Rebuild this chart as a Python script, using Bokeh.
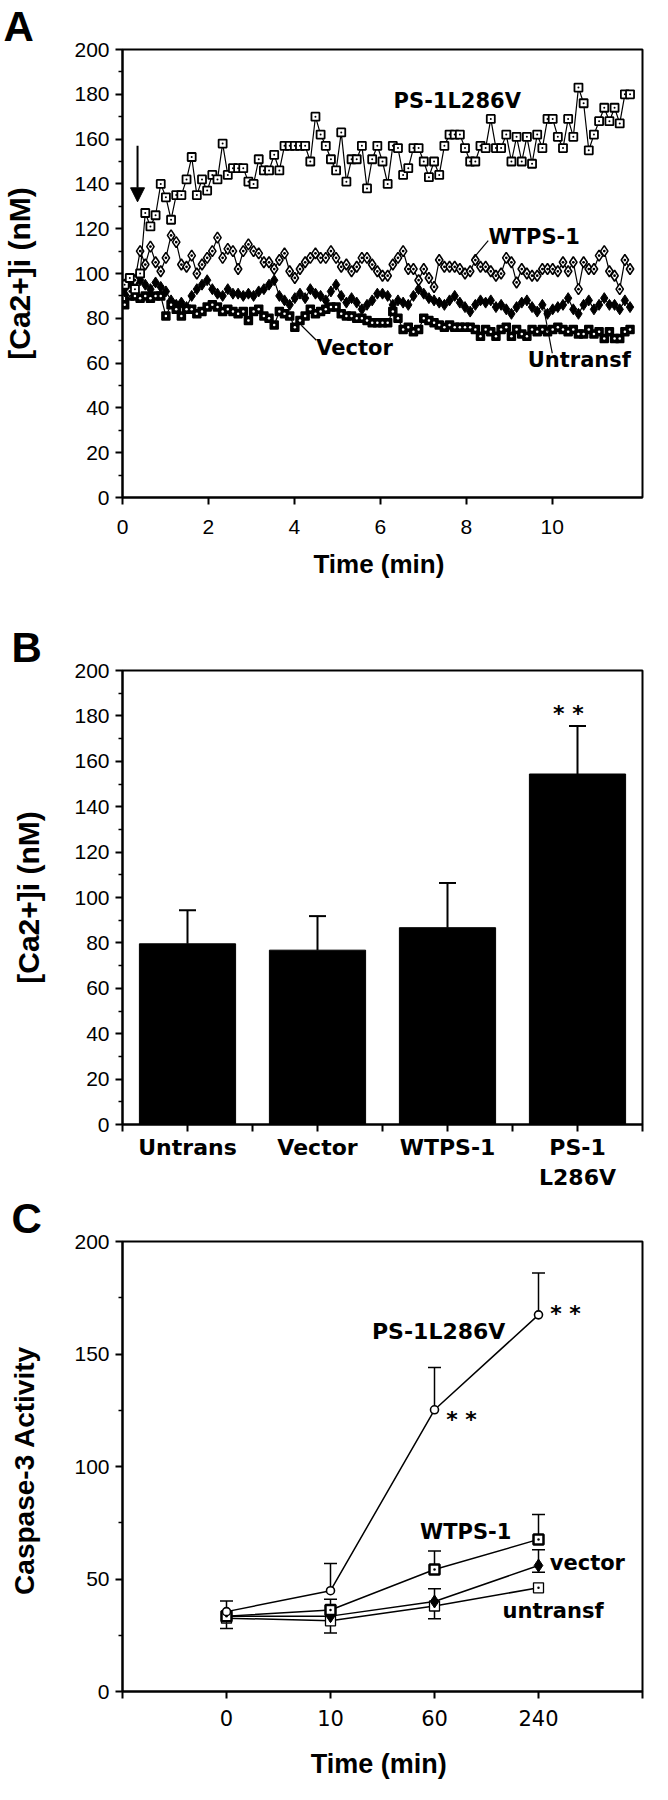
from bokeh.plotting import figure
from bokeh.models import (Range1d, FixedTicker, Arrow, NormalHead, Label,
                          Whisker, TeeHead, ColumnDataSource, Title)
from bokeh.layouts import column
from bokeh.embed import file_html
from bokeh.resources import INLINE

# ---------------- Panel A data ----------------
TIME_A = [0.05, 0.17, 0.29, 0.41, 0.53, 0.65, 0.77, 0.89, 1.01, 1.13,
          1.25, 1.37, 1.49, 1.61, 1.73, 1.85, 1.97, 2.09, 2.21, 2.33,
          2.45, 2.57, 2.69, 2.81, 2.93, 3.05, 3.17, 3.29, 3.41, 3.53,
          3.65, 3.77, 3.89, 4.01, 4.13, 4.25, 4.37, 4.49, 4.61, 4.73,
          4.85, 4.97, 5.09, 5.21, 5.33, 5.45, 5.57, 5.69, 5.81, 5.93,
          6.05, 6.17, 6.29, 6.41, 6.53, 6.65, 6.77, 6.89, 7.01, 7.13,
          7.25, 7.37, 7.49, 7.61, 7.73, 7.85, 7.97, 8.09, 8.21, 8.33,
          8.45, 8.57, 8.69, 8.81, 8.93, 9.05, 9.17, 9.29, 9.41, 9.53,
          9.65, 9.77, 9.89, 10.01, 10.13, 10.25, 10.37, 10.49, 10.61, 10.73,
          10.85, 10.97, 11.09, 11.21, 11.33, 11.45, 11.57, 11.69, 11.81]

PS_A = [95, 98, 93, 100, 127, 121, 126, 140, 134, 124,
        135, 135, 142, 152, 135, 142, 137, 144, 142, 158,
        144, 147, 147, 147, 141, 140, 151, 146, 146, 153,
        146, 157, 157, 157, 157, 157, 150, 170, 162, 157,
        151, 146, 163, 141, 151, 151, 157, 138, 151, 157,
        150, 140, 157, 156, 144, 147, 156, 156, 150, 143,
        150, 144, 157, 162, 162, 162, 156, 150, 150, 157,
        156, 169, 156, 156, 162, 150, 161, 150, 161, 149,
        162, 156, 169, 169, 161, 156, 169, 161, 183, 176,
        155, 162, 168, 174, 168, 174, 167, 180, 180]

WT_A = [95, 92, 97, 110, 104, 112, 105, 101, 107, 117,
        114, 104, 103, 108, 100, 104, 107, 110, 116, 107,
        111, 110, 102, 110, 113, 110, 109, 105, 105, 102,
        106, 109, 101, 98, 102, 105, 107, 109, 107, 107,
        110, 107, 103, 104, 101, 103, 107, 107, 104, 101,
        99, 99, 104, 107, 110, 102, 102, 97, 102, 98,
        94, 106, 103, 103, 103, 102, 100, 101, 106, 103,
        103, 101, 99, 100, 107, 105, 96, 102, 100, 99,
        99, 102, 102, 102, 101, 105, 101, 105, 93, 105,
        102, 102, 108, 110, 101, 99, 93, 106, 102]

VEC_A = [86, 90, 90, 89, 90, 89, 90, 90, 81, 86,
         84, 81, 84, 84, 82, 83, 85, 86, 85, 83,
         84, 83, 82, 83, 79, 83, 84, 81, 80, 77,
         83, 82, 81, 76, 79, 81, 84, 82, 83, 84,
         85, 85, 82, 81, 81, 80, 80, 79, 78, 78,
         78, 78, 83, 80, 75, 76, 74, 75, 80, 79,
         78, 77, 76, 77, 76, 76, 76, 76, 75, 72,
         75, 74, 72, 75, 76, 72, 75, 73, 72, 75,
         74, 75, 74, 75, 76, 75, 74, 75, 73, 73,
         75, 73, 74, 71, 74, 71, 71, 74, 75]

UNT_A = [92, 96, 94, 97, 95, 93, 96, 94, 92, 88,
         86, 87, 85, 90, 93, 95, 97, 93, 91, 90,
         93, 91, 91, 90, 91, 90, 92, 93, 95, 97,
         90, 88, 86, 89, 91, 89, 93, 91, 90, 88,
         92, 95, 90, 87, 89, 87, 84, 86, 88, 91,
         91, 90, 86, 88, 87, 86, 90, 93, 91, 89,
         88, 87, 86, 88, 90, 87, 85, 83, 86, 88,
         87, 88, 85, 86, 84, 82, 85, 87, 88, 85,
         83, 86, 82, 84, 85, 86, 89, 84, 82, 86,
         88, 84, 86, 89, 86, 86, 84, 88, 85]

A_XTICKS = [0, 2, 4, 6, 8, 10]
A_YTICKS = [0, 20, 40, 60, 80, 100, 120, 140, 160, 180, 200]
A_YMINOR = [10, 30, 50, 70, 90, 110, 130, 150, 170, 190]

# ---------------- Panel B data ----------------
B_CATS = ["Untrans", "Vector", "WTPS-1", "PS-1\nL286V"]
B_MEAN = [79.6, 76.8, 86.7, 154.4]
B_ERR = [14.8, 15.0, 19.7, 21.2]

# ---------------- Panel C data ----------------
C_TIMES = ["0", "10", "60", "240"]
C_PS = [35.5, 44.8, 125.2, 167.4]
C_PS_HI = [4.7, 12.1, 18.8, 18.6]
C_WT = [33.5, 36.2, 54.2, 67.6]
C_WT_HI = [0, 4.8, 8.2, 11.1]
C_VEC = [33.5, 33.5, 40.0, 56.0]
C_VEC_HI = [0, 0, 5.7, 7.0]
C_VEC_LO = [0, 0, 0, 3.0]
C_UNT = [32.6, 31.4, 38.0, 46.1]
C_UNT_LO = [4.6, 5.4, 5.7, 0]
C_YTICKS = [0, 50, 100, 150, 200]
C_YMINOR = [25, 75, 125, 175]

TICK_FONT = "Liberation Sans"
TITLE_FONT = "Liberation Sans"
ANN_FONT = "DejaVu Sans"


def style(p):
    p.outline_line_color = "black"
    p.outline_line_width = 2
    p.xgrid.visible = False
    p.ygrid.visible = False
    p.background_fill_color = "white"
    p.border_fill_color = "white"
    for ax in list(p.xaxis) + list(p.yaxis):
        ax.axis_line_width = 2
        ax.axis_line_color = "black"
        ax.major_tick_line_width = 2
        ax.major_tick_line_color = "black"
        ax.minor_tick_line_width = 1.5
        ax.minor_tick_line_color = "black"
        ax.major_tick_in = 0
        ax.major_tick_out = 7
        ax.minor_tick_in = 0
        ax.minor_tick_out = 4
        ax.major_label_text_font = TICK_FONT
        ax.major_label_text_font_size = "21px"
        ax.major_label_text_color = "black"
        ax.axis_label_text_font = TITLE_FONT
        ax.axis_label_text_font_style = "bold"
        ax.axis_label_text_color = "black"


def ann(p, x, y, text, size="21px", font=ANN_FONT, style_="bold", align="center"):
    p.add_layout(Label(x=x, y=y, text=text, text_align=align, text_baseline="middle",
                       text_font=font, text_font_style=style_, text_font_size=size,
                       text_color="black"))


def panel_letter(p, text, offset):
    p.title = Title(text=text, text_font=TITLE_FONT, text_font_style="bold",
                    text_font_size="42px", align="left", offset=offset, standoff=0,
                    text_color="black")


W = 652

# ================= Panel A =================
pa = figure(width=W, height=612, x_range=Range1d(0, 12.1), y_range=Range1d(0, 200),
            output_backend="svg", toolbar_location=None,
            min_border_left=120, min_border_right=10, min_border_top=42, min_border_bottom=115)
style(pa)
panel_letter(pa, "A", -119)
pa.xaxis.ticker = FixedTicker(ticks=A_XTICKS, minor_ticks=[])
pa.yaxis.ticker = FixedTicker(ticks=A_YTICKS, minor_ticks=A_YMINOR)
pa.xaxis.axis_label = "Time  (min)"
pa.yaxis.axis_label = "[Ca2+]i (nM)"
pa.xaxis.axis_label_text_font_size = "26px"
pa.yaxis.axis_label_text_font_size = "30px"
pa.xaxis.major_label_standoff = 15
pa.xaxis.axis_label_standoff = 12
pa.yaxis.major_label_standoff = 6
pa.yaxis.axis_label_standoff = 35

srcA = ColumnDataSource(dict(t=TIME_A, ps=PS_A, wt=WT_A, vec=VEC_A, unt=UNT_A))
pa.line("t", "unt", source=srcA, line_color="black", line_width=1.2)
pa.scatter("t", "unt", source=srcA, marker="diamond", size=11,
           fill_color="black", line_color="black")
pa.line("t", "vec", source=srcA, line_color="black", line_width=1.2)
pa.scatter("t", "vec", source=srcA, marker="square", size=8,
           fill_color="black", line_color="black", line_width=1.5)
pa.scatter("t", "vec", source=srcA, marker="circle", size=2.5,
           fill_color="white", line_color=None)
pa.line("t", "wt", source=srcA, line_color="black", line_width=1.2)
pa.scatter("t", "wt", source=srcA, marker="diamond_dot", size=11,
           fill_color="white", line_color="black", line_width=1.6)
pa.line("t", "ps", source=srcA, line_color="black", line_width=1.2)
pa.scatter("t", "ps", source=srcA, marker="square_dot", size=8,
           fill_color="white", line_color="black", line_width=1.8)

pa.add_layout(Arrow(end=NormalHead(size=14, fill_color="black", line_color="black"),
                    x_start=0.35, y_start=157, x_end=0.35, y_end=132,
                    line_width=2, line_color="black"))
ann(pa, 7.79, 177.0, "PS-1L286V")
ann(pa, 9.58, 116.4, "WTPS-1")
ann(pa, 5.4, 66.7, "Vector")
ann(pa, 10.63, 61.3, "Untransf")
pa.segment(x0=[8.51, 4.51, 10.0], y0=[114.7, 70.2, 64.4],
           x1=[8.16, 4.16, 9.81], y1=[106.7, 76.9, 83.6],
           line_color="black", line_width=1.2)

# ================= Panel B =================
xb = [i + 0.5 for i in range(len(B_CATS))]
pb = figure(width=W, height=580, x_range=Range1d(0, len(B_CATS)), y_range=Range1d(0, 200),
            output_backend="svg", toolbar_location=None,
            min_border_left=120, min_border_right=10, min_border_top=58, min_border_bottom=66)
style(pb)
panel_letter(pb, "B", -111)
b_ticks = [i * 0.5 for i in range(2 * len(B_CATS) + 1)]
pb.xaxis.ticker = FixedTicker(ticks=b_ticks, minor_ticks=[])
overrides = {t: "" for t in b_ticks}
for x, c in zip(xb, B_CATS):
    overrides[x] = c
pb.xaxis.major_label_overrides = overrides
pb.xaxis.major_label_text_font = ANN_FONT
pb.xaxis.major_label_text_font_style = "bold"
pb.xaxis.major_label_text_font_size = "22px"
pb.xaxis.major_label_standoff = 3
pb.yaxis.ticker = FixedTicker(ticks=A_YTICKS, minor_ticks=A_YMINOR)
pb.yaxis.axis_label = "[Ca2+]i (nM)"
pb.yaxis.axis_label_text_font_size = "30px"
pb.yaxis.major_label_standoff = 6
pb.yaxis.axis_label_standoff = 26

srcB = ColumnDataSource(dict(x=xb, top=B_MEAN, hi=[m + e for m, e in zip(B_MEAN, B_ERR)]))
pb.vbar(x="x", top="top", width=0.74, source=srcB, fill_color="black", line_color="black")
pb.add_layout(Whisker(source=srcB, base="x", lower="top", upper="hi",
                      upper_head=TeeHead(size=17, line_width=2, line_color="black"),
                      lower_head=None, line_width=2, line_color="black"))
ann(pb, 3.43, 181, "* *", size="22px")

# ================= Panel C =================
xc = list(range(len(C_TIMES)))
pc = figure(width=W, height=592, x_range=Range1d(-1, len(C_TIMES)), y_range=Range1d(0, 200),
            output_backend="svg", toolbar_location=None,
            min_border_left=120, min_border_right=10, min_border_top=44, min_border_bottom=93)
style(pc)
panel_letter(pc, "C", -111)
c_ticks = [-1] + xc + [len(C_TIMES)]
pc.xaxis.ticker = FixedTicker(ticks=c_ticks, minor_ticks=[])
c_over = {t: "" for t in c_ticks}
for x, c in zip(xc, C_TIMES):
    c_over[x] = c
pc.xaxis.major_label_overrides = c_over
pc.xaxis.major_label_text_font = "DejaVu Sans"
pc.xaxis.major_label_text_font_size = "21px"
pc.xaxis.major_label_standoff = 11
pc.xaxis.axis_label = "Time  (min)"
pc.xaxis.axis_label_text_font_size = "27px"
pc.xaxis.axis_label_standoff = 20
pc.yaxis.ticker = FixedTicker(ticks=C_YTICKS, minor_ticks=C_YMINOR)
pc.yaxis.axis_label = "Caspase-3  Activity"
pc.yaxis.axis_label_text_font_size = "28px"
pc.yaxis.major_label_standoff = 6
pc.yaxis.axis_label_standoff = 31


def err_bars(p, xs, ys, hi, lo):
    up = [(x, y, y + h) for x, y, h in zip(xs, ys, hi) if h > 0]
    dn = [(x, y, y - l) for x, y, l in zip(xs, ys, lo) if l > 0]
    for rows in (up, dn):
        if rows:
            s = ColumnDataSource(dict(x=[r[0] for r in rows], a=[r[1] for r in rows],
                                      b=[r[2] for r in rows]))
            p.add_layout(Whisker(source=s, base="x", lower="a", upper="b",
                                 upper_head=TeeHead(size=13, line_width=1.5, line_color="black"),
                                 lower_head=None, line_width=1.5, line_color="black"))


zeros = [0] * len(C_TIMES)
err_bars(pc, xc, C_PS, C_PS_HI, zeros)
err_bars(pc, xc, C_WT, C_WT_HI, zeros)
err_bars(pc, xc, C_VEC, C_VEC_HI, C_VEC_LO)
err_bars(pc, xc, C_UNT, zeros, C_UNT_LO)

for ys in (C_UNT, C_VEC, C_WT, C_PS):
    pc.line(xc, ys, line_color="black", line_width=1.5)
pc.scatter(xc, C_UNT, marker="square_dot", size=10, fill_color="white",
           line_color="black", line_width=1.3)
pc.scatter(xc, C_VEC, marker="diamond", size=13, fill_color="black", line_color="black")
pc.scatter(xc, C_WT, marker="square_dot", size=10, fill_color="white",
           line_color="black", line_width=2.5)
pc.scatter(xc, C_PS, marker="circle", size=8, fill_color="white",
           line_color="black", line_width=1.6)

ann(pc, 2.04, 160, "PS-1L286V", size="22px")
ann(pc, 3.26, 168, "* *", size="22px")
ann(pc, 2.26, 121, "* *", size="22px")
ann(pc, 2.30, 71, "WTPS-1")
ann(pc, 3.47, 57, "vector")
ann(pc, 3.14, 36, "untransf")

layout = column(pa, pb, pc, spacing=0)
open("out.html", "w").write(file_html(layout, INLINE))
